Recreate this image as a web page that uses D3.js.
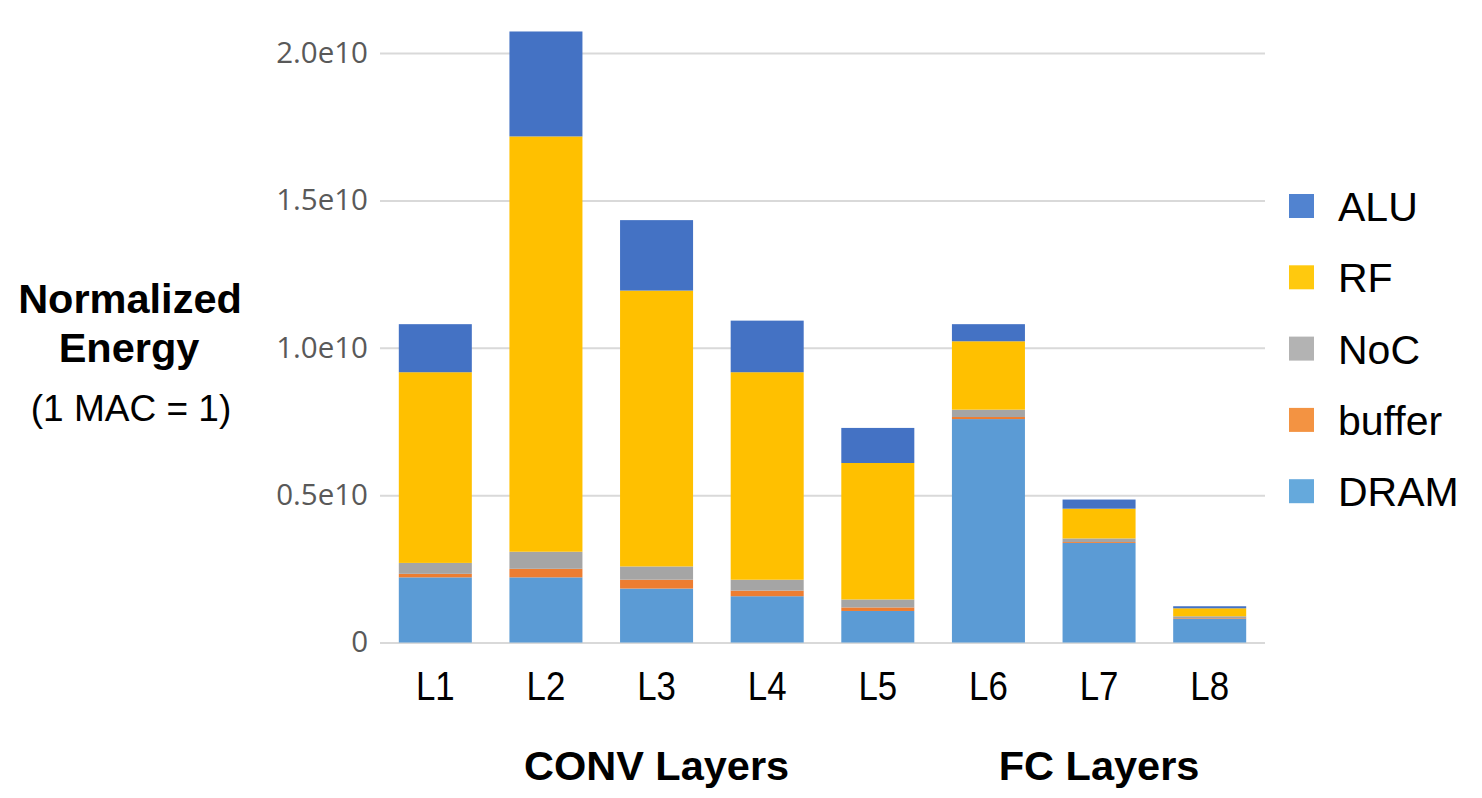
<!DOCTYPE html>
<html>
<head>
<meta charset="utf-8">
<script src="https://cdn.jsdelivr.net/npm/d3@7"></script>
<style>
  body { margin: 0; background: #fff; }
</style>
</head>
<body>
<div id="chart"></div>
<script>
let wSvg = 1482; let hSvg = 798;

// data, in units of 1e9 (normalized energy)
const layers = ["L1", "L2", "L3", "L4", "L5", "L6", "L7", "L8"];
const dram   = [2.21, 2.21, 1.83, 1.57, 1.07, 7.58, 3.38, 0.81];
const buffer = [0.12, 0.29, 0.30, 0.19, 0.12, 0.07, 0.03, 0.02];
const noc    = [0.37, 0.58, 0.45, 0.37, 0.27, 0.25, 0.12, 0.06];
const rf     = [6.47, 14.09, 9.36, 7.04, 4.63, 2.32, 1.01, 0.27];
const alu    = [1.63, 3.56, 2.39, 1.75, 1.19, 0.58, 0.31, 0.07];
const yTicks = [0, 0.5e10, 1.0e10, 1.5e10, 2.0e10];
const groups = [
  {name: "CONV Layers", mid: "L3"},
  {name: "FC Layers", mid: "L7"}
];

// stack order bottom -> top
const seriesKeys = ["DRAM", "buffer", "NoC", "RF", "ALU"];
const seriesVals = {DRAM: dram, buffer: buffer, NoC: noc, RF: rf, ALU: alu};
const colors = {ALU: "#4472C4", RF: "#FFC000", NoC: "#A5A5A5", buffer: "#ED7D31", DRAM: "#5B9BD5"};
const legendColors = {ALU: "#5183D0", RF: "#FFC90E", NoC: "#B3B3B3", buffer: "#F39342", DRAM: "#65A9DC"};
const legendOrder = ["ALU", "RF", "NoC", "buffer", "DRAM"];

const table = layers.map((l, i) => {
  const row = {layer: l};
  seriesKeys.forEach(k => row[k] = seriesVals[k][i] * 1e9);
  return row;
});

let svg = d3.select("#chart")
  .append("svg")
  .attr("width", wSvg)
  .attr("height", hSvg)
  .style("font-family", "Liberation Sans, Arial, sans-serif");

const xScale = d3.scaleBand()
  .domain(layers)
  .range([380, 1265])
  .paddingInner(0.34)
  .paddingOuter(0.17);

const yScale = d3.scaleLinear()
  .domain([0, 2e10])
  .range([642.5, 53]);

// gridlines + y labels
const yAxis = d3.axisLeft(yScale)
  .tickValues(yTicks)
  .tickSize(-(1265 - 380))
  .tickPadding(12)
  .tickFormat(d => d === 0 ? "0" : (d / 1e10).toFixed(1) + "e10");

const yG = svg.append("g")
  .attr("transform", "translate(380,0)")
  .call(yAxis);
yG.select(".domain").remove();
yG.selectAll("line").attr("stroke", "#d9d9d9").attr("stroke-width", 2);
yG.selectAll("text")
  .attr("x", -12)
  .style("font-family", "Open Sans, sans-serif")
  .style("font-size", "29.5px")
  .attr("fill", "#595959");

// stacked bars
const stacked = d3.stack().keys(seriesKeys)(table);

svg.append("g")
  .selectAll("g")
  .data(stacked)
  .join("g")
  .attr("fill", d => colors[d.key])
  .selectAll("rect")
  .data(d => d)
  .join("rect")
  .attr("x", d => xScale(d.data.layer))
  .attr("width", xScale.bandwidth())
  .attr("y", d => yScale(d[1]))
  .attr("height", d => yScale(d[0]) - yScale(d[1]));

// x labels (narrow look)
svg.append("g")
  .selectAll("text")
  .data(layers)
  .join("text")
  .attr("transform", d => `translate(${xScale(d) + xScale.bandwidth() / 2},700) scale(0.85,1)`)
  .attr("text-anchor", "middle")
  .style("font-size", "41px")
  .attr("fill", "#000")
  .text(d => d);

// group labels
svg.append("g")
  .selectAll("text")
  .data(groups)
  .join("text")
  .attr("x", d => xScale(d.mid) + xScale.bandwidth() / 2)
  .attr("y", 780)
  .attr("text-anchor", "middle")
  .style("font-size", "41.5px")
  .style("font-weight", "bold")
  .text(d => d.name);

// y title
const yTitle = svg.append("g").attr("text-anchor", "middle");
yTitle.append("text").attr("x", 130).attr("y", 313)
  .style("font-size", "41.5px").style("font-weight", "bold").text("Normalized");
yTitle.append("text").attr("x", 129).attr("y", 362)
  .style("font-size", "41.5px").style("font-weight", "bold").text("Energy");
yTitle.append("text").attr("x", 131).attr("y", 421)
  .style("font-size", "37px").text("(1 MAC = 1)");

// legend
const legend = svg.append("g")
  .selectAll("g")
  .data(legendOrder)
  .join("g")
  .attr("transform", (d, i) => `translate(1289,${206 + i * 71.3})`);

legend.append("rect")
  .attr("x", 0).attr("y", -12)
  .attr("width", 25).attr("height", 24)
  .attr("fill", d => legendColors[d]);

legend.append("text")
  .attr("x", 49).attr("y", 15)
  .style("font-size", "41px")
  .attr("fill", "#000")
  .text(d => d);
</script>
</body>
</html>
